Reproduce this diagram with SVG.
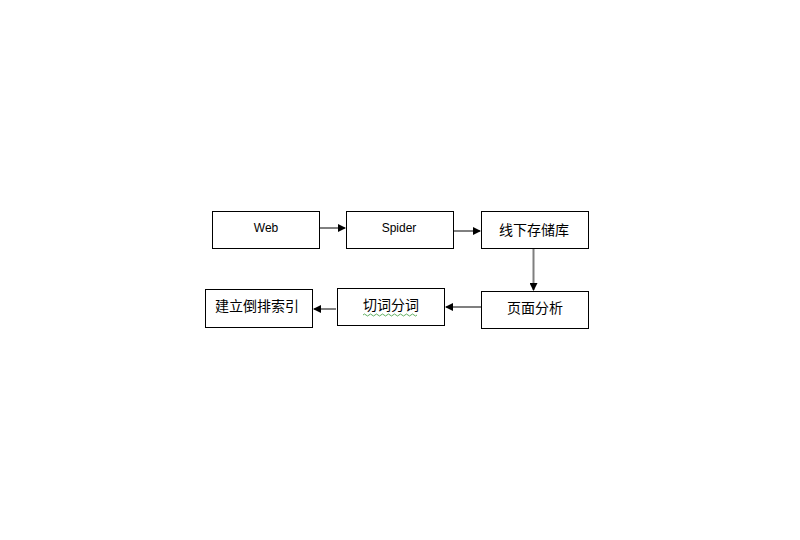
<svg xmlns="http://www.w3.org/2000/svg" width="800" height="540" viewBox="0 0 800 540">
<defs>
<style>
.box{fill:#fff;stroke:#000;stroke-width:1}
.lat{font-family:"Liberation Sans","DejaVu Sans",sans-serif;font-size:12px;fill:#000;text-anchor:middle}
.cjk{font-family:"Noto Sans CJK SC","Liberation Sans",sans-serif;font-size:14px;fill:#000;text-anchor:middle}
.c{fill:none;stroke:#000;stroke-width:1}
.g{fill:none;stroke:#7f7f7f;stroke-width:2}
</style>
<marker id="ah" markerWidth="8" markerHeight="8" refX="7" refY="4" orient="auto" markerUnits="userSpaceOnUse">
<path d="M0,0 L8,4 L0,8 Z" fill="#000"/>
</marker>
</defs>
<rect width="800" height="540" fill="#fff"/>
<g id="connectors">
<line class="c" x1="319" y1="228" x2="345" y2="228" marker-end="url(#ah)"/>
<line class="c" x1="453" y1="231" x2="480" y2="231" marker-end="url(#ah)"/>
<line class="g" x1="533.5" y1="249" x2="533.5" y2="290" marker-end="url(#ah)"/>
<line class="g" x1="481" y1="307" x2="446" y2="307" marker-end="url(#ah)"/>
<line class="c" x1="336" y1="309" x2="314" y2="309" marker-end="url(#ah)"/>
</g>
<g id="web">
<rect class="box" x="212.5" y="211.5" width="107" height="37"/>
<text class="lat" x="266" y="232">Web</text>
</g>
<g id="spider">
<rect class="box" x="346.5" y="211.5" width="107" height="37"/>
<text class="lat" x="399" y="232">Spider</text>
</g>
<g id="offline-storage">
<rect class="box" x="481.5" y="211.5" width="107" height="37"/>
<text class="cjk" x="534" y="235">线下存储库</text>
</g>
<g id="page-analysis">
<rect class="box" x="481.5" y="291.5" width="107" height="37"/>
<text class="cjk" x="535" y="313">页面分析</text>
</g>
<g id="segmentation">
<rect class="box" x="337.5" y="288.5" width="107" height="37"/>
<text class="cjk" x="391" y="310">切词分词</text>
<path d="M363,315 q1.5,-2 3,0 t3,0 t3,0 t3,0 t3,0 t3,0 t3,0 t3,0 t3,0 t3,0 t3,0 t3,0 t3,0 t3,0 t3,0 t3,0 t3,0 t3,0" fill="none" stroke="#3a9a3a" stroke-width="0.8"/>
</g>
<g id="inverted-index">
<rect class="box" x="205.5" y="289.5" width="107" height="38"/>
<text class="cjk" x="257" y="311">建立倒排索引</text>
</g>
</svg>
